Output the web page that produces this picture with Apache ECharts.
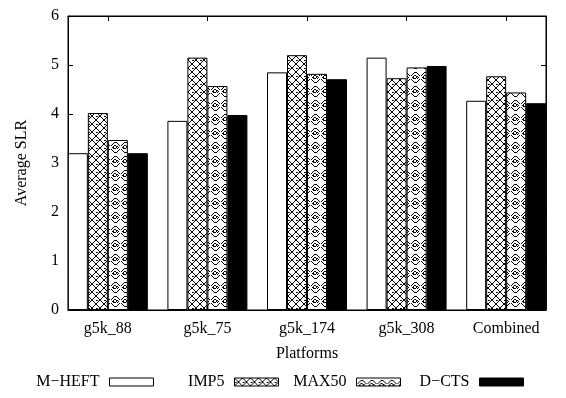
<!DOCTYPE html>
<html>
<head>
<meta charset="utf-8">
<script src="https://cdn.jsdelivr.net/npm/echarts@6/dist/echarts.min.js"></script>
<style>html,body{margin:0;padding:0;background:#fff}#c{width:566px;height:398px}</style>
</head>
<body>
<div id="c"></div>
<script>
const categories = ['g5k_88', 'g5k_75', 'g5k_174', 'g5k_308', 'Combined'];
const seriesNames = ['M\u2212HEFT', 'IMP5', 'MAX50', 'D\u2212CTS'];
const mheft = [3.20, 3.86, 4.85, 5.15, 4.27];
const imp5  = [4.02, 5.15, 5.20, 4.73, 4.77];
const max50 = [3.47, 4.57, 4.82, 4.95, 4.44];
const dcts  = [3.20, 3.98, 4.71, 4.98, 4.22];
const yTicks = [0, 1, 2, 3, 4, 5, 6];
const xTicks = [0, 1, 2, 3, 4];

function makeCross() {
  const c = document.createElement('canvas');
  c.width = 8; c.height = 8;
  const g = c.getContext('2d');
  g.fillStyle = '#fff'; g.fillRect(0, 0, 8, 8);
  g.fillStyle = '#000';
  for (let i = 0; i < 8; i++) {
    g.fillRect(i, i, 1, 1);
    g.fillRect(7 - i, i, 1, 1);
  }
  g.fillRect(0, 4, 1, 1);
  g.fillRect(1, 4, 1, 1);
  return c;
}
function makeDiamond() {
  const W = 10, H = 14;
  const c = document.createElement('canvas');
  c.width = W; c.height = H;
  const g = c.getContext('2d');
  g.fillStyle = '#fff'; g.fillRect(0, 0, W, H);
  g.fillStyle = '#000';
  for (let y = 0; y < H; y++) {
    for (let x = 0; x < W; x++) {
      const dx = Math.abs(x - 5) / 5, dy = Math.abs(y - 7) / 7;
      const d = dx + dy;
      if (Math.abs(d - 1) < 0.12 && (x + y) % 2 === 0) g.fillRect(x, y, 1, 1);
      if (Math.abs(d - 0.62) < 0.1 && (x + y) % 2 === 1) g.fillRect(x, y, 1, 1);
    }
  }
  g.fillRect(4, 5, 2, 1); g.fillRect(4, 8, 2, 1);
  g.fillRect(3, 6, 1, 2); g.fillRect(6, 6, 1, 2);
  return c;
}

const fills = ['#ffffff', {image: makeCross(), repeat: 'repeat'}, {image: makeDiamond(), repeat: 'repeat'}, '#000000'];
const values = [mheft, imp5, max50, dcts];

const font = 'Liberation Serif';
const fs = 16;
const chart = echarts.init(document.getElementById('c'), null, {renderer: 'canvas'});
const series = seriesNames.map((n, i) => ({
  name: n,
  type: 'bar',
  xAxisIndex: 0,
  yAxisIndex: 0,
  barWidth: 20,
  barGap: '0%',
  data: values[i].map((v, k) => [k, v]),
  itemStyle: {color: fills[i], borderColor: '#000', borderWidth: 1},
  emphasis: {disabled: true},
  animation: false
}));

const legendRights = [407, 282, 160, 37];
const legends = seriesNames.map((n, i) => ({
  show: true,
  data: [n],
  right: legendRights[i], top: 369,
  orient: 'horizontal',
  align: 'right',
  itemWidth: 44, itemHeight: 8,
  icon: 'rect',
  selectedMode: false,
  formatter: name => '{t|' + name + '}',
  textStyle: {color: '#000', fontSize: fs, fontFamily: font,
    rich: {t: {color: '#000', fontSize: fs, fontFamily: font, padding: [0, 5, 0, 0]}}},
  itemStyle: {borderColor: '#000', borderWidth: 1}
}));

chart.setOption({
  animation: false,
  textStyle: {fontFamily: font},
  grid: {left: 68, right: 20, top: 16, bottom: 88, show: true, borderColor: '#000', borderWidth: 1, backgroundColor: 'transparent'},
  xAxis: [{
    type: 'value', min: -0.4, max: 4.4,
    splitLine: {show: false},
    axisLine: {show: true, onZero: false, lineStyle: {color: '#000', width: 1}},
    axisTick: {show: true, inside: true, length: 5, customValues: xTicks, lineStyle: {color: '#000'}},
    axisLabel: {customValues: xTicks, formatter: v => categories[Math.round(v)], color: '#000', fontSize: fs, fontFamily: font, margin: 11},
    name: 'Platforms', nameLocation: 'middle', nameGap: 36,
    nameTextStyle: {color: '#000', fontSize: fs, fontFamily: font}
  }, {
    type: 'value', position: 'top', min: -0.4, max: 4.4,
    splitLine: {show: false},
    axisLine: {show: true, onZero: false, lineStyle: {color: '#000'}},
    axisTick: {show: true, inside: true, length: 5, customValues: xTicks, lineStyle: {color: '#000'}},
    axisLabel: {show: false}
  }],
  yAxis: [{
    type: 'value', min: 0, max: 6, interval: 1,
    splitLine: {show: false},
    axisLine: {show: true, onZero: false, lineStyle: {color: '#000'}},
    axisTick: {show: true, inside: true, length: 5, lineStyle: {color: '#000'}},
    axisLabel: {color: '#000', fontSize: fs, fontFamily: font, margin: 9, formatter: v => yTicks.includes(v) ? String(v) : ''},
    name: 'Average SLR', nameLocation: 'middle', nameGap: 38, nameRotate: 90,
    nameTextStyle: {color: '#000', fontSize: fs, fontFamily: font}
  }, {
    type: 'value', position: 'right', min: 0, max: 6, interval: 1,
    splitLine: {show: false},
    axisLine: {show: true, onZero: false, lineStyle: {color: '#000'}},
    axisTick: {show: true, inside: true, length: 5, lineStyle: {color: '#000'}},
    axisLabel: {show: false}
  }],
  legend: legends,
  series: series
});
</script>
</body>
</html>
